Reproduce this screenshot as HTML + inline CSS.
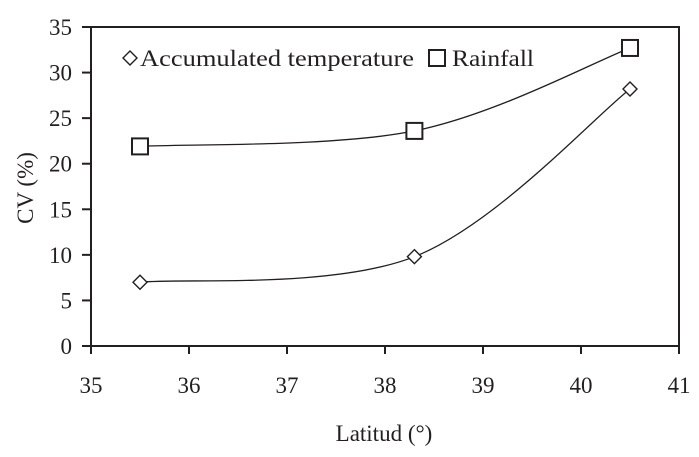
<!DOCTYPE html>
<html><head><meta charset="utf-8"><style>
html,body{margin:0;padding:0;background:#fff}
svg{display:block;font-family:"Liberation Serif",serif;fill:#231f20}
</style></head><body>
<svg id="chart" width="699" height="457" viewBox="0 0 699 457" xmlns="http://www.w3.org/2000/svg">
<g id="g"></g>
</svg>
<script>
const xTicks = [35,36,37,38,39,40,41];
const yTicks = [0,5,10,15,20,25,30,35];
const latitudes = [35.5,38.3,40.5];
const tempValues = [7.0,9.8,28.2];
const rainValues = [21.9,23.6,32.7];

const L=91,R=679,T=27,B=346;
const sx=v=>L+(v-35)/(41-35)*(R-L);
const sy=v=>B-(v/35)*(B-T);
const NS='http://www.w3.org/2000/svg';
const g=document.getElementById('g');
function mk(tag,attrs,parent){const e=document.createElementNS(NS,tag);for(const k in attrs)e.setAttribute(k,attrs[k]);(parent||g).appendChild(e);return e;}

const frame=mk('rect',{x:L,y:T,width:R-L,height:B-T,fill:'none',stroke:'#231f20','stroke-width':2});



yTicks.forEach(v=>{
  const t=mk('line',{x1:L-9,x2:L,y1:sy(v),y2:sy(v),stroke:'#231f20','stroke-width':2});
  
  
  const s=mk('text',{x:72,y:sy(v)+8,'text-anchor':'end','font-size':23});
  s.textContent=v;
  
  
});
xTicks.forEach(v=>{
  const t=mk('line',{x1:sx(v),x2:sx(v),y1:B,y2:B+8,stroke:'#231f20','stroke-width':2});
  
  
  const s=mk('text',{x:sx(v),y:393,'text-anchor':'middle','font-size':23});
  s.textContent=v;
  
  
});

function smooth(xs,ys){
  const p=xs.map((x,i)=>[sx(x),sy(ys[i])]);
  let d='M'+p[0][0]+','+p[0][1];
  const k=0.5/3*2;
  for(let i=0;i<p.length-1;i++){
    const p0=p[i-1]||p[i],p1=p[i],p2=p[i+1],p3=p[i+2]||p[i+1];
    const c1=[p1[0]+(p2[0]-p0[0])*k/2,p1[1]+(p2[1]-p0[1])*k/2];
    const c2=[p2[0]-(p3[0]-p1[0])*k/2,p2[1]-(p3[1]-p1[1])*k/2];
    d+=' C'+c1+' '+c2+' '+p2;
  }
  return d;
}
const rl=mk('path',{d:smooth(latitudes,rainValues),fill:'none',stroke:'#231f20','stroke-width':1.3});


const tl=mk('path',{d:smooth(latitudes,tempValues),fill:'none',stroke:'#231f20','stroke-width':1.3});



function diamond(cx,cy,r){return mk('path',{d:`M${cx},${cy-r}L${cx+r},${cy}L${cx},${cy+r}L${cx-r},${cy}Z`,fill:'#fff',stroke:'#231f20','stroke-width':1.4});}
function square(cx,cy,h){return mk('rect',{x:cx-h,y:cy-h,width:2*h,height:2*h,fill:'#fff',stroke:'#231f20','stroke-width':2});}
latitudes.forEach((x,i)=>{
  const m=square(sx(x),sy(rainValues[i]),8);
  
  
});
latitudes.forEach((x,i)=>{
  const m=diamond(sx(x),sy(tempValues[i]),7);
  
  
});

const ld=diamond(130,58,7);


const lt=mk('text',{x:140,y:66,'font-size':23,textLength:274,lengthAdjust:'spacingAndGlyphs'});
lt.textContent='Accumulated temperature';


const ls=square(437,58,8);


const lr=mk('text',{x:452,y:66,'font-size':23,textLength:82,lengthAdjust:'spacingAndGlyphs'});
lr.textContent='Rainfall';



const yt=mk('text',{x:0,y:0,'font-size':23,'text-anchor':'middle',transform:'translate(33,188) rotate(-90)'});
yt.textContent='CV (%)';


const xt=mk('text',{x:384,y:441,'font-size':23,'text-anchor':'middle'});
xt.textContent='Latitud (°)';


</script>
</body></html>
